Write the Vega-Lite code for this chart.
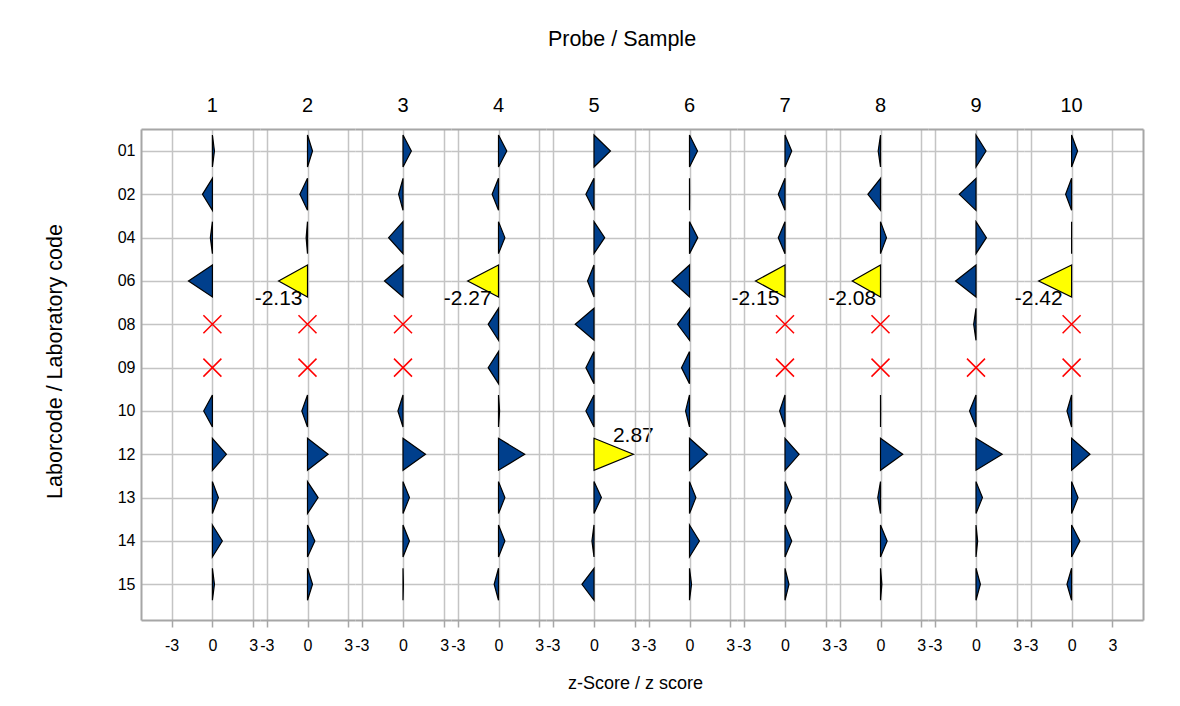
{
  "$schema": "https://vega.github.io/schema/vega-lite/v6.json",
  "padding": {"left": 44, "top": 28, "right": 5, "bottom": 5},
  "background": "white",
  "title": {"text": "Probe / Sample", "anchor": "middle", "fontSize": 21.5, "fontWeight": "normal", "offset": 46, "frame": "group", "dx": 481},
  "datasets": {
    "scores": [
      {"sample": 1, "lab": "01", "z": 0.15}, {"sample": 1, "lab": "02", "z": -0.73}, {"sample": 1, "lab": "04", "z": -0.15}, {"sample": 1, "lab": "06", "z": -1.76}, {"sample": 1, "lab": "08", "z": null}, {"sample": 1, "lab": "09", "z": null}, {"sample": 1, "lab": "10", "z": -0.64}, {"sample": 1, "lab": "12", "z": 1.03}, {"sample": 1, "lab": "13", "z": 0.44}, {"sample": 1, "lab": "14", "z": 0.73}, {"sample": 1, "lab": "15", "z": 0.15},
      {"sample": 2, "lab": "01", "z": 0.37}, {"sample": 2, "lab": "02", "z": -0.56}, {"sample": 2, "lab": "04", "z": -0.1}, {"sample": 2, "lab": "06", "z": -2.13}, {"sample": 2, "lab": "08", "z": null}, {"sample": 2, "lab": "09", "z": null}, {"sample": 2, "lab": "10", "z": -0.42}, {"sample": 2, "lab": "12", "z": 1.52}, {"sample": 2, "lab": "13", "z": 0.78}, {"sample": 2, "lab": "14", "z": 0.54}, {"sample": 2, "lab": "15", "z": 0.37},
      {"sample": 3, "lab": "01", "z": 0.61}, {"sample": 3, "lab": "02", "z": -0.32}, {"sample": 3, "lab": "04", "z": -1.05}, {"sample": 3, "lab": "06", "z": -1.35}, {"sample": 3, "lab": "08", "z": null}, {"sample": 3, "lab": "09", "z": null}, {"sample": 3, "lab": "10", "z": -0.37}, {"sample": 3, "lab": "12", "z": 1.64}, {"sample": 3, "lab": "13", "z": 0.47}, {"sample": 3, "lab": "14", "z": 0.47}, {"sample": 3, "lab": "15", "z": 0.03},
      {"sample": 4, "lab": "01", "z": 0.61}, {"sample": 4, "lab": "02", "z": -0.47}, {"sample": 4, "lab": "04", "z": 0.47}, {"sample": 4, "lab": "06", "z": -2.27}, {"sample": 4, "lab": "08", "z": -0.76}, {"sample": 4, "lab": "09", "z": -0.76}, {"sample": 4, "lab": "10", "z": 0.08}, {"sample": 4, "lab": "12", "z": 1.93}, {"sample": 4, "lab": "13", "z": 0.47}, {"sample": 4, "lab": "14", "z": 0.47}, {"sample": 4, "lab": "15", "z": -0.32},
      {"sample": 5, "lab": "01", "z": 1.2}, {"sample": 5, "lab": "02", "z": -0.59}, {"sample": 5, "lab": "04", "z": 0.78}, {"sample": 5, "lab": "06", "z": -0.47}, {"sample": 5, "lab": "08", "z": -1.37}, {"sample": 5, "lab": "09", "z": -0.59}, {"sample": 5, "lab": "10", "z": -0.59}, {"sample": 5, "lab": "12", "z": 2.87}, {"sample": 5, "lab": "13", "z": 0.54}, {"sample": 5, "lab": "14", "z": -0.15}, {"sample": 5, "lab": "15", "z": -0.88},
      {"sample": 6, "lab": "01", "z": 0.59}, {"sample": 6, "lab": "02", "z": 0.01}, {"sample": 6, "lab": "04", "z": 0.61}, {"sample": 6, "lab": "06", "z": -1.3}, {"sample": 6, "lab": "08", "z": -0.88}, {"sample": 6, "lab": "09", "z": -0.59}, {"sample": 6, "lab": "10", "z": -0.29}, {"sample": 6, "lab": "12", "z": 1.32}, {"sample": 6, "lab": "13", "z": 0.47}, {"sample": 6, "lab": "14", "z": 0.73}, {"sample": 6, "lab": "15", "z": 0.15},
      {"sample": 7, "lab": "01", "z": 0.49}, {"sample": 7, "lab": "02", "z": -0.49}, {"sample": 7, "lab": "04", "z": -0.49}, {"sample": 7, "lab": "06", "z": -2.15}, {"sample": 7, "lab": "08", "z": null}, {"sample": 7, "lab": "09", "z": null}, {"sample": 7, "lab": "10", "z": -0.39}, {"sample": 7, "lab": "12", "z": 1.03}, {"sample": 7, "lab": "13", "z": 0.49}, {"sample": 7, "lab": "14", "z": 0.49}, {"sample": 7, "lab": "15", "z": 0.29},
      {"sample": 8, "lab": "01", "z": -0.17}, {"sample": 8, "lab": "02", "z": -0.93}, {"sample": 8, "lab": "04", "z": 0.44}, {"sample": 8, "lab": "06", "z": -2.08}, {"sample": 8, "lab": "08", "z": null}, {"sample": 8, "lab": "09", "z": null}, {"sample": 8, "lab": "10", "z": 0.01}, {"sample": 8, "lab": "12", "z": 1.64}, {"sample": 8, "lab": "13", "z": -0.2}, {"sample": 8, "lab": "14", "z": 0.49}, {"sample": 8, "lab": "15", "z": 0.1},
      {"sample": 9, "lab": "01", "z": 0.73}, {"sample": 9, "lab": "02", "z": -1.22}, {"sample": 9, "lab": "04", "z": 0.76}, {"sample": 9, "lab": "06", "z": -1.49}, {"sample": 9, "lab": "08", "z": -0.17}, {"sample": 9, "lab": "09", "z": null}, {"sample": 9, "lab": "10", "z": -0.47}, {"sample": 9, "lab": "12", "z": 1.91}, {"sample": 9, "lab": "13", "z": 0.47}, {"sample": 9, "lab": "14", "z": 0.12}, {"sample": 9, "lab": "15", "z": 0.32},
      {"sample": 10, "lab": "01", "z": 0.44}, {"sample": 10, "lab": "02", "z": -0.44}, {"sample": 10, "lab": "04", "z": 0.0}, {"sample": 10, "lab": "06", "z": -2.42}, {"sample": 10, "lab": "08", "z": null}, {"sample": 10, "lab": "09", "z": null}, {"sample": 10, "lab": "10", "z": -0.34}, {"sample": 10, "lab": "12", "z": 1.35}, {"sample": 10, "lab": "13", "z": 0.47}, {"sample": 10, "lab": "14", "z": 0.61}, {"sample": 10, "lab": "15", "z": -0.34}
    ]
  },
  "data": {"name": "scores"},
  "spacing": 0,
  "bounds": "flush",
  "resolve": {"scale": {"x": "independent", "y": "shared"}, "axis": {"x": "independent", "y": "independent"}},
  "hconcat": [
    {
      "name": "s1", "width": 119, "height": 491,
      "title": {"text": "1", "dx": 11.9},
      "transform": [{"filter": "datum.sample == 1"}],
      "resolve": {"axis": {"x": "independent"}},
      "layer": [
        {"transform": [{"filter": "isValid(datum.z)"}],
         "mark": {"type": "point", "filled": true, "opacity": 1, "size": 1024, "stroke": "black", "strokeWidth": 1.2, "shape": {"expr": "'M'+(-(scale('s1_x',datum.z)-scale('s1_x',0))/16)+',-1L0,0L'+(-(scale('s1_x',datum.z)-scale('s1_x',0))/16)+',1Z'"}},
         "encoding": {
           "x": {"field": "z", "type": "quantitative", "scale": {"domain": [-5.25, 3.5], "nice": false, "zero": false}, "axis": {"values": [-3, 0, 3], "labelExpr": "'' + datum.value", "grid": true, "tickSize": 7, "labelPadding": 10, "labelFlush": false, "labelOverlap": false, "labelBound": false, "title": null}},
           "y": {"field": "lab", "type": "ordinal", "scale": {"type": "point", "domain": ["01","02","04","06","08","09","10","12","13","14","15"], "padding": 0.666, "align": 0.381}, "axis": {"title": "Laborcode / Laboratory code", "titleFontSize": 21.5, "titleY": 232, "ticks": false, "labelPadding": 6, "titlePadding": 51, "grid": true, "domain": true}},
           "fill": {"condition": {"test": "abs(datum.z) >= 2", "value": "#ffff00"}, "value": "#003f8c"}
         }},
        {"transform": [{"filter": "!isValid(datum.z)"}],
         "mark": {"type": "point", "filled": false, "opacity": 1, "shape": "M-1,-1L1,1M-1,1L1,-1", "size": 324, "stroke": "#ff0000", "strokeWidth": 1.5},
         "encoding": {"x": {"datum": 0, "type": "quantitative", "axis": {"orient": "top", "labels": false, "ticks": false, "grid": false, "domain": true, "title": null}}, "y": {"field": "lab", "type": "ordinal"}}},
        {"transform": [{"filter": "datum.z <= -2"}],
         "mark": {"type": "text", "fontSize": 21, "dy": 18, "color": "black"},
         "encoding": {"x": {"field": "z", "type": "quantitative", "axis": null}, "y": {"field": "lab", "type": "ordinal"}, "text": {"field": "z", "type": "nominal"}}},
        {"transform": [{"filter": "datum.z >= 2"}],
         "mark": {"type": "text", "fontSize": 21, "dy": -18, "color": "black"},
         "encoding": {"x": {"field": "z", "type": "quantitative", "axis": null}, "y": {"field": "lab", "type": "ordinal"}, "text": {"field": "z", "type": "nominal"}}}
      ]
    },
    {
      "name": "s2", "width": 95, "height": 491,
      "title": {"text": "2"},
      "transform": [{"filter": "datum.sample == 2"}],
      "resolve": {"axis": {"x": "independent"}},
      "layer": [
        {"transform": [{"filter": "isValid(datum.z)"}],
         "mark": {"type": "point", "filled": true, "opacity": 1, "size": 1024, "stroke": "black", "strokeWidth": 1.2, "shape": {"expr": "'M'+(-(scale('s2_x',datum.z)-scale('s2_x',0))/16)+',-1L0,0L'+(-(scale('s2_x',datum.z)-scale('s2_x',0))/16)+',1Z'"}},
         "encoding": {
           "x": {"field": "z", "type": "quantitative", "scale": {"domain": [-3.5, 3.5], "nice": false, "zero": false}, "axis": {"values": [-3, 0, 3], "labelExpr": "'' + datum.value", "grid": true, "tickSize": 7, "labelPadding": 10, "labelFlush": false, "labelOverlap": false, "labelBound": false, "title": null}},
           "y": {"field": "lab", "type": "ordinal", "scale": {"type": "point", "domain": ["01","02","04","06","08","09","10","12","13","14","15"], "padding": 0.666, "align": 0.381}, "axis": {"labels": false, "ticks": false, "domain": false, "title": null, "grid": true}},
           "fill": {"condition": {"test": "abs(datum.z) >= 2", "value": "#ffff00"}, "value": "#003f8c"}
         }},
        {"transform": [{"filter": "!isValid(datum.z)"}],
         "mark": {"type": "point", "filled": false, "opacity": 1, "shape": "M-1,-1L1,1M-1,1L1,-1", "size": 324, "stroke": "#ff0000", "strokeWidth": 1.5},
         "encoding": {"x": {"datum": 0, "type": "quantitative", "axis": {"orient": "top", "labels": false, "ticks": false, "grid": false, "domain": true, "title": null}}, "y": {"field": "lab", "type": "ordinal"}}},
        {"transform": [{"filter": "datum.z <= -2"}],
         "mark": {"type": "text", "fontSize": 21, "dy": 18, "color": "black"},
         "encoding": {"x": {"field": "z", "type": "quantitative", "axis": null}, "y": {"field": "lab", "type": "ordinal"}, "text": {"field": "z", "type": "nominal"}}},
        {"transform": [{"filter": "datum.z >= 2"}],
         "mark": {"type": "text", "fontSize": 21, "dy": -18, "color": "black"},
         "encoding": {"x": {"field": "z", "type": "quantitative", "axis": null}, "y": {"field": "lab", "type": "ordinal"}, "text": {"field": "z", "type": "nominal"}}}
      ]
    },
    {
      "name": "s3", "width": 96, "height": 491,
      "title": {"text": "3"},
      "transform": [{"filter": "datum.sample == 3"}],
      "resolve": {"axis": {"x": "independent"}},
      "layer": [
        {"transform": [{"filter": "isValid(datum.z)"}],
         "mark": {"type": "point", "filled": true, "opacity": 1, "size": 1024, "stroke": "black", "strokeWidth": 1.2, "shape": {"expr": "'M'+(-(scale('s3_x',datum.z)-scale('s3_x',0))/16)+',-1L0,0L'+(-(scale('s3_x',datum.z)-scale('s3_x',0))/16)+',1Z'"}},
         "encoding": {
           "x": {"field": "z", "type": "quantitative", "scale": {"domain": [-3.5, 3.5], "nice": false, "zero": false}, "axis": {"values": [-3, 0, 3], "labelExpr": "'' + datum.value", "grid": true, "tickSize": 7, "labelPadding": 10, "labelFlush": false, "labelOverlap": false, "labelBound": false, "title": null}},
           "y": {"field": "lab", "type": "ordinal", "scale": {"type": "point", "domain": ["01","02","04","06","08","09","10","12","13","14","15"], "padding": 0.666, "align": 0.381}, "axis": {"labels": false, "ticks": false, "domain": false, "title": null, "grid": true}},
           "fill": {"condition": {"test": "abs(datum.z) >= 2", "value": "#ffff00"}, "value": "#003f8c"}
         }},
        {"transform": [{"filter": "!isValid(datum.z)"}],
         "mark": {"type": "point", "filled": false, "opacity": 1, "shape": "M-1,-1L1,1M-1,1L1,-1", "size": 324, "stroke": "#ff0000", "strokeWidth": 1.5},
         "encoding": {"x": {"datum": 0, "type": "quantitative", "axis": {"orient": "top", "labels": false, "ticks": false, "grid": false, "domain": true, "title": null}}, "y": {"field": "lab", "type": "ordinal"}}},
        {"transform": [{"filter": "datum.z <= -2"}],
         "mark": {"type": "text", "fontSize": 21, "dy": 18, "color": "black"},
         "encoding": {"x": {"field": "z", "type": "quantitative", "axis": null}, "y": {"field": "lab", "type": "ordinal"}, "text": {"field": "z", "type": "nominal"}}},
        {"transform": [{"filter": "datum.z >= 2"}],
         "mark": {"type": "text", "fontSize": 21, "dy": -18, "color": "black"},
         "encoding": {"x": {"field": "z", "type": "quantitative", "axis": null}, "y": {"field": "lab", "type": "ordinal"}, "text": {"field": "z", "type": "nominal"}}}
      ]
    },
    {
      "name": "s4", "width": 95, "height": 491,
      "title": {"text": "4"},
      "transform": [{"filter": "datum.sample == 4"}],
      "resolve": {"axis": {"x": "independent"}},
      "layer": [
        {"transform": [{"filter": "isValid(datum.z)"}],
         "mark": {"type": "point", "filled": true, "opacity": 1, "size": 1024, "stroke": "black", "strokeWidth": 1.2, "shape": {"expr": "'M'+(-(scale('s4_x',datum.z)-scale('s4_x',0))/16)+',-1L0,0L'+(-(scale('s4_x',datum.z)-scale('s4_x',0))/16)+',1Z'"}},
         "encoding": {
           "x": {"field": "z", "type": "quantitative", "scale": {"domain": [-3.5, 3.5], "nice": false, "zero": false}, "axis": {"values": [-3, 0, 3], "labelExpr": "'' + datum.value", "grid": true, "tickSize": 7, "labelPadding": 10, "labelFlush": false, "labelOverlap": false, "labelBound": false, "title": null}},
           "y": {"field": "lab", "type": "ordinal", "scale": {"type": "point", "domain": ["01","02","04","06","08","09","10","12","13","14","15"], "padding": 0.666, "align": 0.381}, "axis": {"labels": false, "ticks": false, "domain": false, "title": null, "grid": true}},
           "fill": {"condition": {"test": "abs(datum.z) >= 2", "value": "#ffff00"}, "value": "#003f8c"}
         }},
        {"transform": [{"filter": "!isValid(datum.z)"}],
         "mark": {"type": "point", "filled": false, "opacity": 1, "shape": "M-1,-1L1,1M-1,1L1,-1", "size": 324, "stroke": "#ff0000", "strokeWidth": 1.5},
         "encoding": {"x": {"datum": 0, "type": "quantitative", "axis": {"orient": "top", "labels": false, "ticks": false, "grid": false, "domain": true, "title": null}}, "y": {"field": "lab", "type": "ordinal"}}},
        {"transform": [{"filter": "datum.z <= -2"}],
         "mark": {"type": "text", "fontSize": 21, "dy": 18, "color": "black"},
         "encoding": {"x": {"field": "z", "type": "quantitative", "axis": null}, "y": {"field": "lab", "type": "ordinal"}, "text": {"field": "z", "type": "nominal"}}},
        {"transform": [{"filter": "datum.z >= 2"}],
         "mark": {"type": "text", "fontSize": 21, "dy": -18, "color": "black"},
         "encoding": {"x": {"field": "z", "type": "quantitative", "axis": null}, "y": {"field": "lab", "type": "ordinal"}, "text": {"field": "z", "type": "nominal"}}}
      ]
    },
    {
      "name": "s5", "width": 96, "height": 491,
      "title": {"text": "5"},
      "transform": [{"filter": "datum.sample == 5"}],
      "resolve": {"axis": {"x": "independent"}},
      "layer": [
        {"transform": [{"filter": "isValid(datum.z)"}],
         "mark": {"type": "point", "filled": true, "opacity": 1, "size": 1024, "stroke": "black", "strokeWidth": 1.2, "shape": {"expr": "'M'+(-(scale('s5_x',datum.z)-scale('s5_x',0))/16)+',-1L0,0L'+(-(scale('s5_x',datum.z)-scale('s5_x',0))/16)+',1Z'"}},
         "encoding": {
           "x": {"field": "z", "type": "quantitative", "scale": {"domain": [-3.5, 3.5], "nice": false, "zero": false}, "axis": {"values": [-3, 0, 3], "labelExpr": "'' + datum.value", "grid": true, "tickSize": 7, "labelPadding": 10, "labelFlush": false, "labelOverlap": false, "labelBound": false, "title": "z-Score / z score", "titleX": 89, "titleAlign": "center", "titlePadding": 21}},
           "y": {"field": "lab", "type": "ordinal", "scale": {"type": "point", "domain": ["01","02","04","06","08","09","10","12","13","14","15"], "padding": 0.666, "align": 0.381}, "axis": {"labels": false, "ticks": false, "domain": false, "title": null, "grid": true}},
           "fill": {"condition": {"test": "abs(datum.z) >= 2", "value": "#ffff00"}, "value": "#003f8c"}
         }},
        {"transform": [{"filter": "!isValid(datum.z)"}],
         "mark": {"type": "point", "filled": false, "opacity": 1, "shape": "M-1,-1L1,1M-1,1L1,-1", "size": 324, "stroke": "#ff0000", "strokeWidth": 1.5},
         "encoding": {"x": {"datum": 0, "type": "quantitative", "axis": {"orient": "top", "labels": false, "ticks": false, "grid": false, "domain": true, "title": null}}, "y": {"field": "lab", "type": "ordinal"}}},
        {"transform": [{"filter": "datum.z <= -2"}],
         "mark": {"type": "text", "fontSize": 21, "dy": 18, "color": "black"},
         "encoding": {"x": {"field": "z", "type": "quantitative", "axis": null}, "y": {"field": "lab", "type": "ordinal"}, "text": {"field": "z", "type": "nominal"}}},
        {"transform": [{"filter": "datum.z >= 2"}],
         "mark": {"type": "text", "fontSize": 21, "dy": -18, "color": "black"},
         "encoding": {"x": {"field": "z", "type": "quantitative", "axis": null}, "y": {"field": "lab", "type": "ordinal"}, "text": {"field": "z", "type": "nominal"}}}
      ]
    },
    {
      "name": "s6", "width": 95, "height": 491,
      "title": {"text": "6"},
      "transform": [{"filter": "datum.sample == 6"}],
      "resolve": {"axis": {"x": "independent"}},
      "layer": [
        {"transform": [{"filter": "isValid(datum.z)"}],
         "mark": {"type": "point", "filled": true, "opacity": 1, "size": 1024, "stroke": "black", "strokeWidth": 1.2, "shape": {"expr": "'M'+(-(scale('s6_x',datum.z)-scale('s6_x',0))/16)+',-1L0,0L'+(-(scale('s6_x',datum.z)-scale('s6_x',0))/16)+',1Z'"}},
         "encoding": {
           "x": {"field": "z", "type": "quantitative", "scale": {"domain": [-3.5, 3.5], "nice": false, "zero": false}, "axis": {"values": [-3, 0, 3], "labelExpr": "'' + datum.value", "grid": true, "tickSize": 7, "labelPadding": 10, "labelFlush": false, "labelOverlap": false, "labelBound": false, "title": null}},
           "y": {"field": "lab", "type": "ordinal", "scale": {"type": "point", "domain": ["01","02","04","06","08","09","10","12","13","14","15"], "padding": 0.666, "align": 0.381}, "axis": {"labels": false, "ticks": false, "domain": false, "title": null, "grid": true}},
           "fill": {"condition": {"test": "abs(datum.z) >= 2", "value": "#ffff00"}, "value": "#003f8c"}
         }},
        {"transform": [{"filter": "!isValid(datum.z)"}],
         "mark": {"type": "point", "filled": false, "opacity": 1, "shape": "M-1,-1L1,1M-1,1L1,-1", "size": 324, "stroke": "#ff0000", "strokeWidth": 1.5},
         "encoding": {"x": {"datum": 0, "type": "quantitative", "axis": {"orient": "top", "labels": false, "ticks": false, "grid": false, "domain": true, "title": null}}, "y": {"field": "lab", "type": "ordinal"}}},
        {"transform": [{"filter": "datum.z <= -2"}],
         "mark": {"type": "text", "fontSize": 21, "dy": 18, "color": "black"},
         "encoding": {"x": {"field": "z", "type": "quantitative", "axis": null}, "y": {"field": "lab", "type": "ordinal"}, "text": {"field": "z", "type": "nominal"}}},
        {"transform": [{"filter": "datum.z >= 2"}],
         "mark": {"type": "text", "fontSize": 21, "dy": -18, "color": "black"},
         "encoding": {"x": {"field": "z", "type": "quantitative", "axis": null}, "y": {"field": "lab", "type": "ordinal"}, "text": {"field": "z", "type": "nominal"}}}
      ]
    },
    {
      "name": "s7", "width": 96, "height": 491,
      "title": {"text": "7"},
      "transform": [{"filter": "datum.sample == 7"}],
      "resolve": {"axis": {"x": "independent"}},
      "layer": [
        {"transform": [{"filter": "isValid(datum.z)"}],
         "mark": {"type": "point", "filled": true, "opacity": 1, "size": 1024, "stroke": "black", "strokeWidth": 1.2, "shape": {"expr": "'M'+(-(scale('s7_x',datum.z)-scale('s7_x',0))/16)+',-1L0,0L'+(-(scale('s7_x',datum.z)-scale('s7_x',0))/16)+',1Z'"}},
         "encoding": {
           "x": {"field": "z", "type": "quantitative", "scale": {"domain": [-3.5, 3.5], "nice": false, "zero": false}, "axis": {"values": [-3, 0, 3], "labelExpr": "'' + datum.value", "grid": true, "tickSize": 7, "labelPadding": 10, "labelFlush": false, "labelOverlap": false, "labelBound": false, "title": null}},
           "y": {"field": "lab", "type": "ordinal", "scale": {"type": "point", "domain": ["01","02","04","06","08","09","10","12","13","14","15"], "padding": 0.666, "align": 0.381}, "axis": {"labels": false, "ticks": false, "domain": false, "title": null, "grid": true}},
           "fill": {"condition": {"test": "abs(datum.z) >= 2", "value": "#ffff00"}, "value": "#003f8c"}
         }},
        {"transform": [{"filter": "!isValid(datum.z)"}],
         "mark": {"type": "point", "filled": false, "opacity": 1, "shape": "M-1,-1L1,1M-1,1L1,-1", "size": 324, "stroke": "#ff0000", "strokeWidth": 1.5},
         "encoding": {"x": {"datum": 0, "type": "quantitative", "axis": {"orient": "top", "labels": false, "ticks": false, "grid": false, "domain": true, "title": null}}, "y": {"field": "lab", "type": "ordinal"}}},
        {"transform": [{"filter": "datum.z <= -2"}],
         "mark": {"type": "text", "fontSize": 21, "dy": 18, "color": "black"},
         "encoding": {"x": {"field": "z", "type": "quantitative", "axis": null}, "y": {"field": "lab", "type": "ordinal"}, "text": {"field": "z", "type": "nominal"}}},
        {"transform": [{"filter": "datum.z >= 2"}],
         "mark": {"type": "text", "fontSize": 21, "dy": -18, "color": "black"},
         "encoding": {"x": {"field": "z", "type": "quantitative", "axis": null}, "y": {"field": "lab", "type": "ordinal"}, "text": {"field": "z", "type": "nominal"}}}
      ]
    },
    {
      "name": "s8", "width": 95, "height": 491,
      "title": {"text": "8"},
      "transform": [{"filter": "datum.sample == 8"}],
      "resolve": {"axis": {"x": "independent"}},
      "layer": [
        {"transform": [{"filter": "isValid(datum.z)"}],
         "mark": {"type": "point", "filled": true, "opacity": 1, "size": 1024, "stroke": "black", "strokeWidth": 1.2, "shape": {"expr": "'M'+(-(scale('s8_x',datum.z)-scale('s8_x',0))/16)+',-1L0,0L'+(-(scale('s8_x',datum.z)-scale('s8_x',0))/16)+',1Z'"}},
         "encoding": {
           "x": {"field": "z", "type": "quantitative", "scale": {"domain": [-3.5, 3.5], "nice": false, "zero": false}, "axis": {"values": [-3, 0, 3], "labelExpr": "'' + datum.value", "grid": true, "tickSize": 7, "labelPadding": 10, "labelFlush": false, "labelOverlap": false, "labelBound": false, "title": null}},
           "y": {"field": "lab", "type": "ordinal", "scale": {"type": "point", "domain": ["01","02","04","06","08","09","10","12","13","14","15"], "padding": 0.666, "align": 0.381}, "axis": {"labels": false, "ticks": false, "domain": false, "title": null, "grid": true}},
           "fill": {"condition": {"test": "abs(datum.z) >= 2", "value": "#ffff00"}, "value": "#003f8c"}
         }},
        {"transform": [{"filter": "!isValid(datum.z)"}],
         "mark": {"type": "point", "filled": false, "opacity": 1, "shape": "M-1,-1L1,1M-1,1L1,-1", "size": 324, "stroke": "#ff0000", "strokeWidth": 1.5},
         "encoding": {"x": {"datum": 0, "type": "quantitative", "axis": {"orient": "top", "labels": false, "ticks": false, "grid": false, "domain": true, "title": null}}, "y": {"field": "lab", "type": "ordinal"}}},
        {"transform": [{"filter": "datum.z <= -2"}],
         "mark": {"type": "text", "fontSize": 21, "dy": 18, "color": "black"},
         "encoding": {"x": {"field": "z", "type": "quantitative", "axis": null}, "y": {"field": "lab", "type": "ordinal"}, "text": {"field": "z", "type": "nominal"}}},
        {"transform": [{"filter": "datum.z >= 2"}],
         "mark": {"type": "text", "fontSize": 21, "dy": -18, "color": "black"},
         "encoding": {"x": {"field": "z", "type": "quantitative", "axis": null}, "y": {"field": "lab", "type": "ordinal"}, "text": {"field": "z", "type": "nominal"}}}
      ]
    },
    {
      "name": "s9", "width": 96, "height": 491,
      "title": {"text": "9"},
      "transform": [{"filter": "datum.sample == 9"}],
      "resolve": {"axis": {"x": "independent"}},
      "layer": [
        {"transform": [{"filter": "isValid(datum.z)"}],
         "mark": {"type": "point", "filled": true, "opacity": 1, "size": 1024, "stroke": "black", "strokeWidth": 1.2, "shape": {"expr": "'M'+(-(scale('s9_x',datum.z)-scale('s9_x',0))/16)+',-1L0,0L'+(-(scale('s9_x',datum.z)-scale('s9_x',0))/16)+',1Z'"}},
         "encoding": {
           "x": {"field": "z", "type": "quantitative", "scale": {"domain": [-3.5, 3.5], "nice": false, "zero": false}, "axis": {"values": [-3, 0, 3], "labelExpr": "'' + datum.value", "grid": true, "tickSize": 7, "labelPadding": 10, "labelFlush": false, "labelOverlap": false, "labelBound": false, "title": null}},
           "y": {"field": "lab", "type": "ordinal", "scale": {"type": "point", "domain": ["01","02","04","06","08","09","10","12","13","14","15"], "padding": 0.666, "align": 0.381}, "axis": {"labels": false, "ticks": false, "domain": false, "title": null, "grid": true}},
           "fill": {"condition": {"test": "abs(datum.z) >= 2", "value": "#ffff00"}, "value": "#003f8c"}
         }},
        {"transform": [{"filter": "!isValid(datum.z)"}],
         "mark": {"type": "point", "filled": false, "opacity": 1, "shape": "M-1,-1L1,1M-1,1L1,-1", "size": 324, "stroke": "#ff0000", "strokeWidth": 1.5},
         "encoding": {"x": {"datum": 0, "type": "quantitative", "axis": {"orient": "top", "labels": false, "ticks": false, "grid": false, "domain": true, "title": null}}, "y": {"field": "lab", "type": "ordinal"}}},
        {"transform": [{"filter": "datum.z <= -2"}],
         "mark": {"type": "text", "fontSize": 21, "dy": 18, "color": "black"},
         "encoding": {"x": {"field": "z", "type": "quantitative", "axis": null}, "y": {"field": "lab", "type": "ordinal"}, "text": {"field": "z", "type": "nominal"}}},
        {"transform": [{"filter": "datum.z >= 2"}],
         "mark": {"type": "text", "fontSize": 21, "dy": -18, "color": "black"},
         "encoding": {"x": {"field": "z", "type": "quantitative", "axis": null}, "y": {"field": "lab", "type": "ordinal"}, "text": {"field": "z", "type": "nominal"}}}
      ]
    },
    {
      "name": "s10", "width": 119, "height": 491,
      "title": {"text": "10", "dx": -11.9},
      "transform": [{"filter": "datum.sample == 10"}],
      "resolve": {"axis": {"x": "independent"}},
      "layer": [
        {"transform": [{"filter": "isValid(datum.z)"}],
         "mark": {"type": "point", "filled": true, "opacity": 1, "size": 1024, "stroke": "black", "strokeWidth": 1.2, "shape": {"expr": "'M'+(-(scale('s10_x',datum.z)-scale('s10_x',0))/16)+',-1L0,0L'+(-(scale('s10_x',datum.z)-scale('s10_x',0))/16)+',1Z'"}},
         "encoding": {
           "x": {"field": "z", "type": "quantitative", "scale": {"domain": [-3.5, 5.25], "nice": false, "zero": false}, "axis": {"values": [-3, 0, 3], "labelExpr": "'' + datum.value", "grid": true, "tickSize": 7, "labelPadding": 10, "labelFlush": false, "labelOverlap": false, "labelBound": false, "title": null}},
           "y": {"field": "lab", "type": "ordinal", "scale": {"type": "point", "domain": ["01","02","04","06","08","09","10","12","13","14","15"], "padding": 0.666, "align": 0.381}, "axis": {"orient": "right", "labels": false, "ticks": false, "domain": true, "title": null, "grid": true}},
           "fill": {"condition": {"test": "abs(datum.z) >= 2", "value": "#ffff00"}, "value": "#003f8c"}
         }},
        {"transform": [{"filter": "!isValid(datum.z)"}],
         "mark": {"type": "point", "filled": false, "opacity": 1, "shape": "M-1,-1L1,1M-1,1L1,-1", "size": 324, "stroke": "#ff0000", "strokeWidth": 1.5},
         "encoding": {"x": {"datum": 0, "type": "quantitative", "axis": {"orient": "top", "labels": false, "ticks": false, "grid": false, "domain": true, "title": null}}, "y": {"field": "lab", "type": "ordinal"}}},
        {"transform": [{"filter": "datum.z <= -2"}],
         "mark": {"type": "text", "fontSize": 21, "dy": 18, "color": "black"},
         "encoding": {"x": {"field": "z", "type": "quantitative", "axis": null}, "y": {"field": "lab", "type": "ordinal"}, "text": {"field": "z", "type": "nominal"}}},
        {"transform": [{"filter": "datum.z >= 2"}],
         "mark": {"type": "text", "fontSize": 21, "dy": -18, "color": "black"},
         "encoding": {"x": {"field": "z", "type": "quantitative", "axis": null}, "y": {"field": "lab", "type": "ordinal"}, "text": {"field": "z", "type": "nominal"}}}
      ]
    }
  ],
  "config": {
    "font": "Liberation Sans",
    "view": {"stroke": null},
    "title": {"fontSize": 20, "fontWeight": "normal", "frame": "group", "offset": 13, "color": "black"},
    "axis": {"gridColor": "#c4c4c4", "gridWidth": 1.5, "domainColor": "#a6a6a6", "domainWidth": 2, "tickColor": "#a6a6a6", "tickWidth": 1.5, "labelColor": "black", "labelFontSize": 16, "titleColor": "black", "titleFontSize": 18, "titleFontWeight": "normal", "labelFont": "Liberation Sans", "titleFont": "Liberation Sans"}
  }
}
